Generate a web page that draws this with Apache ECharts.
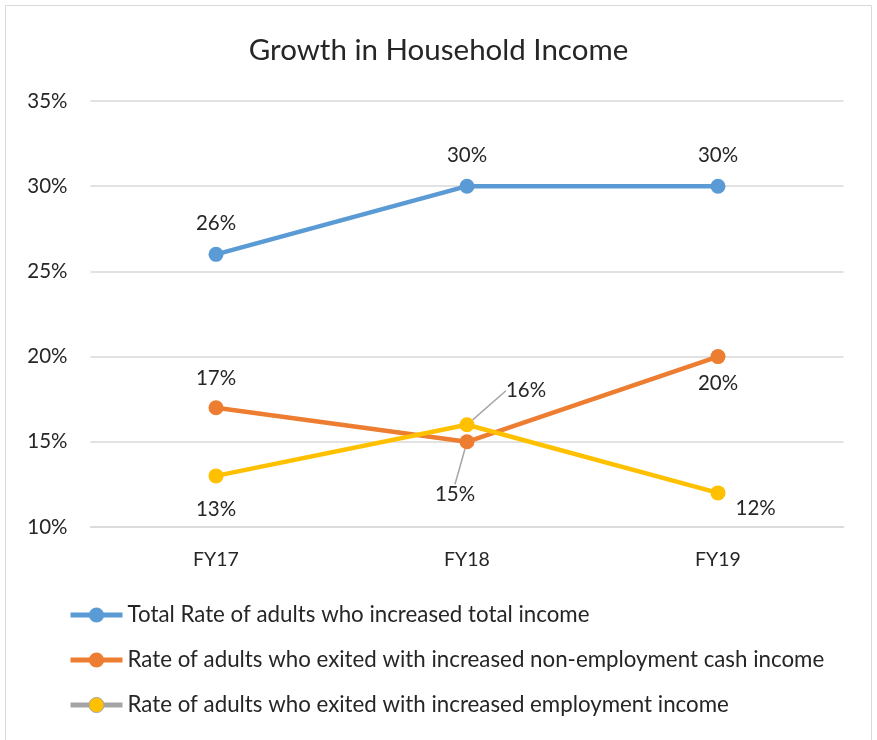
<!DOCTYPE html>
<html><head><meta charset="utf-8">
<script src="https://cdn.jsdelivr.net/npm/echarts@6/dist/echarts.min.js"></script>
<style>html,body{margin:0;padding:0;background:#fff}#c{width:877px;height:740px}</style>
</head><body><div id="c"></div>
<script>
const categories = ['FY17', 'FY18', 'FY19'];
const totalIncome = [26, 30, 30];
const nonEmploymentIncome = [17, 15, 20];
const employmentIncome = [13, 16, 12];
const yTicks = { min: 10, max: 35, interval: 5 };
const seriesNames = [
  'Total Rate of adults who increased total income',
  'Rate of adults who exited with increased non-employment cash income',
  'Rate of adults who exited with increased employment income'
];

const FONT = 'Lato';
const TXT = '#262626';
const LBL = 20.5;
const chart = echarts.init(document.getElementById('c'));

function lbl(pos, dist) {
  return { show: true, position: pos, distance: dist };
}

const blueData = totalIncome.map(v => ({ value: v, label: lbl('top', 13) }));
const orangeData = nonEmploymentIncome.map((v, i) => {
  if (i === 0) return { value: v, label: lbl('top', 11) };
  if (i === 1) return { value: v, label: lbl('bottom', 5), labelLine: { show: true } };
  return { value: v, label: lbl('bottom', 9) };
});
const yellowData = employmentIncome.map((v, i) => {
  if (i === 0) return { value: v, label: lbl('bottom', 16) };
  if (i === 1) return { value: v, label: lbl('top', 5), labelLine: { show: true } };
  return { value: v, label: lbl('right', 10) };
});

const labelBase = {
  show: true,
  formatter: p => p.value + '%',
  fontFamily: FONT, fontSize: LBL, color: TXT
};

chart.setOption({
  animation: false,
  graphic: [{
    type: 'rect', shape: { x: 5.5, y: 5.5, width: 866, height: 745 },
    style: { fill: 'none', stroke: '#d9d9d9', lineWidth: 1 }, silent: true
  }],
  title: {
    text: 'Growth in Household Income', left: 'center', top: 30,
    textStyle: { fontFamily: FONT, fontSize: 29.5, fontWeight: 'normal', color: TXT }
  },
  grid: { left: 90.5, right: 33.5, top: 101, bottom: 213, containLabel: false },
  xAxis: {
    type: 'category', data: categories, boundaryGap: true,
    axisLine: { show: true, lineStyle: { color: '#d9d9d9', width: 1.5 } },
    axisTick: { show: false },
    axisLabel: { fontFamily: FONT, fontSize: 19.5, color: TXT, margin: 23 }
  },
  yAxis: {
    type: 'value', min: yTicks.min, max: yTicks.max, interval: yTicks.interval,
    axisLine: { show: false }, axisTick: { show: false },
    splitLine: { lineStyle: { color: '#d9d9d9', width: 1.5 } },
    axisLabel: { formatter: '{value}%', fontFamily: FONT, fontSize: LBL, color: TXT, margin: 23 }
  },
  legend: {
    orient: 'vertical', left: 68, top: 603, padding: 0,
    itemWidth: 52, itemHeight: 19, itemGap: 21, itemTextGap: 7,
    textStyle: { fontFamily: FONT, fontSize: 22.3, color: TXT, lineHeight: 24 },
    data: [
      { name: seriesNames[0], lineStyle: { width: 5 } },
      { name: seriesNames[1], lineStyle: { width: 5 } },
      { name: seriesNames[2], lineStyle: { color: '#a5a5a5', width: 5 }, itemStyle: { color: '#ffc000', borderColor: '#a5a5a5', borderWidth: 1 } }
    ]
  },
  series: [
    {
      name: seriesNames[0], type: 'line', data: blueData,
      symbol: 'circle', symbolSize: 15,
      lineStyle: { color: '#5b9bd5', width: 4.5 }, itemStyle: { color: '#5b9bd5' },
      label: labelBase
    },
    {
      name: seriesNames[1], type: 'line', data: orangeData,
      symbol: 'circle', symbolSize: 15,
      lineStyle: { color: '#ed7d31', width: 4.5 }, itemStyle: { color: '#ed7d31' },
      label: labelBase,
      labelLine: { show: false, lineStyle: { color: '#a5a5a5', width: 1.5 } },
      labelLayout: p => p.dataIndex === 1 ? { dx: -12, dy: 30 } : {}
    },
    {
      name: seriesNames[2], type: 'line', data: yellowData,
      symbol: 'circle', symbolSize: 15,
      lineStyle: { color: '#ffc000', width: 4.5 }, itemStyle: { color: '#ffc000' },
      label: labelBase,
      labelLine: { show: false, lineStyle: { color: '#a5a5a5', width: 1.5 } },
      labelLayout: p => p.dataIndex === 1 ? { dx: 59, dy: -11 } : (p.dataIndex === 2 ? { dy: 15 } : {})
    }
  ]
});
</script></body></html>
